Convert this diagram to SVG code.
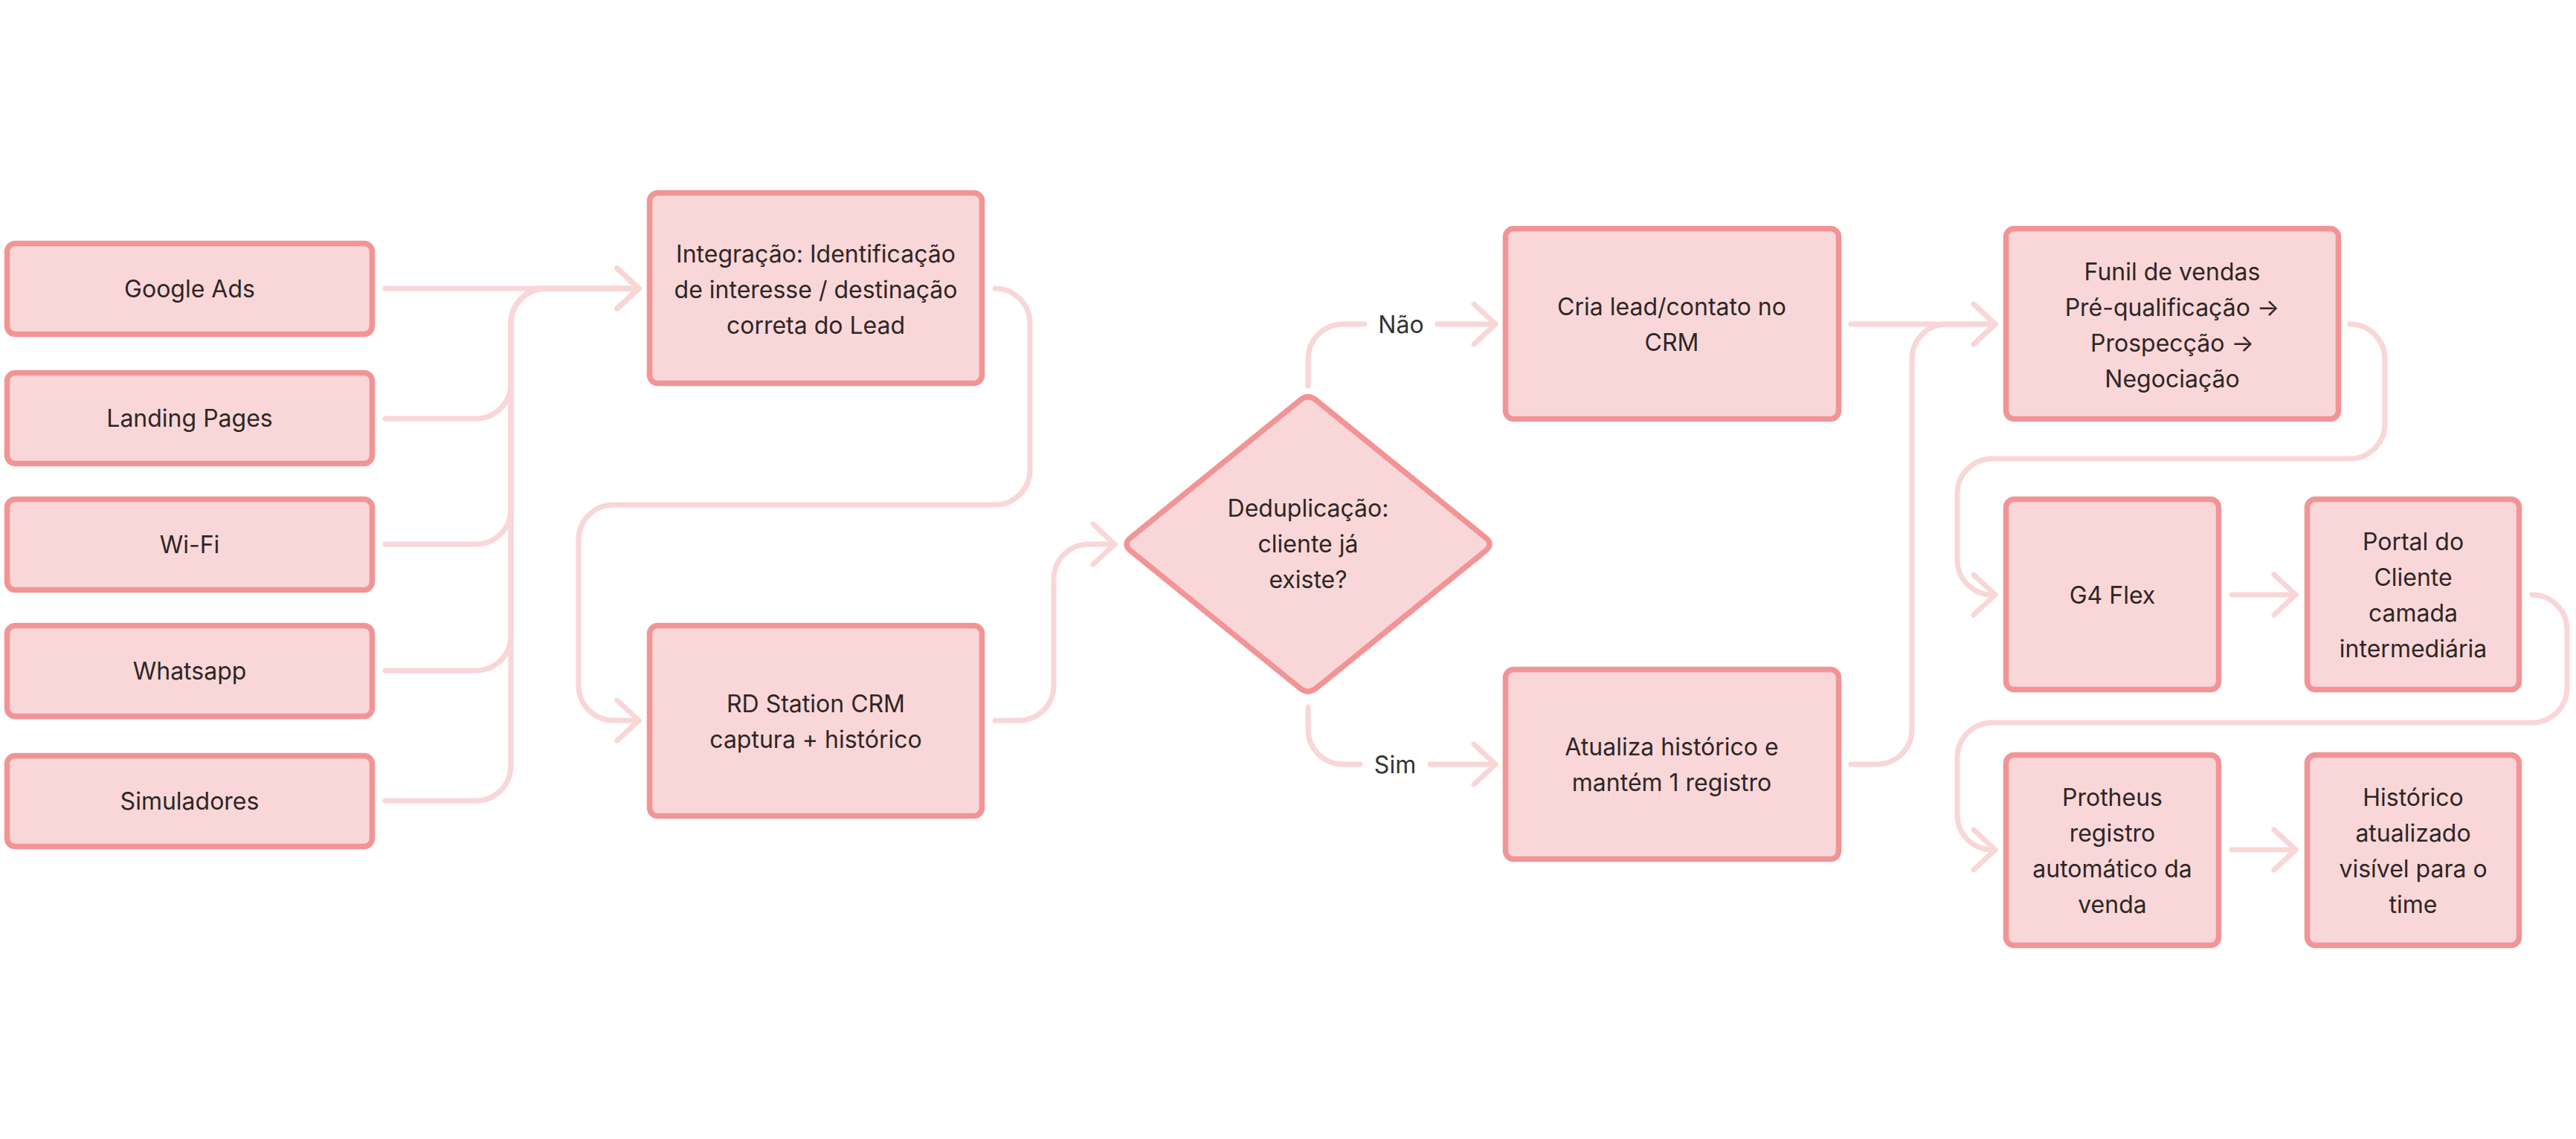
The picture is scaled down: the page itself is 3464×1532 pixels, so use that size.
<svg xmlns="http://www.w3.org/2000/svg" width="3464" height="1532" viewBox="0 0 3464 1532">
<style>
.node{fill:#F9D7D8;stroke:#F29495;stroke-width:7.5;stroke-linejoin:round}
.t{font-family:Inter,"Noto Sans","Liberation Sans",sans-serif;font-size:32px;fill:#2E2626;text-anchor:middle}
.lbl{font-family:Inter,"Noto Sans","Liberation Sans",sans-serif;font-size:32px;fill:#333333;text-anchor:middle}
.c{fill:none;stroke:#F9D6D7;stroke-width:7;stroke-linecap:round;stroke-linejoin:round}
</style>
<defs>
<marker id="arr" markerUnits="userSpaceOnUse" viewBox="-40 -35 50 70" markerWidth="50" markerHeight="70" refX="0" refY="0" orient="auto">
<path d="M-29,-27 L0,0 L-29,27" fill="none" stroke="#F9D6D7" stroke-width="7" stroke-linecap="round" stroke-linejoin="round"/>
</marker>
</defs>
<rect width="3464" height="1532" fill="#FFFFFF"/>
<g id="connectors">
<path class="c" d="M518,388 H859" marker-end="url(#arr)"/>
<path class="c" d="M518,563 H640 A47,47 0 0 0 687,516 V435 A47,47 0 0 1 734,388 H859" marker-end="url(#arr)"/>
<path class="c" d="M518,732 H640 A47,47 0 0 0 687,685 V435 A47,47 0 0 1 734,388 H859" marker-end="url(#arr)"/>
<path class="c" d="M518,902 H640 A47,47 0 0 0 687,855 V435 A47,47 0 0 1 734,388 H859" marker-end="url(#arr)"/>
<path class="c" d="M518,1077 H640 A47,47 0 0 0 687,1030 V435 A47,47 0 0 1 734,388 H859" marker-end="url(#arr)"/>
<path class="c" d="M1338,388 A47,47 0 0 1 1385,435 V632 A47,47 0 0 1 1338,679 H825 A47,47 0 0 0 778,726 V922 A47,47 0 0 0 825,969 H859" marker-end="url(#arr)"/>
<path class="c" d="M1338,969 H1370 A47,47 0 0 0 1417,922 V779 A47,47 0 0 1 1464,732 H1499" marker-end="url(#arr)"/>
<path class="c" d="M1759,519 V483 A47,47 0 0 1 1806,436 H1835"/>
<path class="c" d="M1933,436 H2011" marker-end="url(#arr)"/>
<path class="c" d="M1759,951 V981 A47,47 0 0 0 1806,1028 H1829"/>
<path class="c" d="M1923,1028 H2011" marker-end="url(#arr)"/>
<path class="c" d="M2489,436 H2683" marker-end="url(#arr)"/>
<path class="c" d="M2489,1028 H2524 A47,47 0 0 0 2571,981 V483 A47,47 0 0 1 2618,436 H2683" marker-end="url(#arr)"/>
<path class="c" d="M3160,436 A47,47 0 0 1 3207,483 V570 A47,47 0 0 1 3160,617 H2679 A47,47 0 0 0 2632,664 V753 A47,47 0 0 0 2679,800 H2683" marker-end="url(#arr)"/>
<path class="c" d="M3001,800 H3087" marker-end="url(#arr)"/>
<path class="c" d="M3405,800 A47,47 0 0 1 3452,847 V925 A47,47 0 0 1 3405,972 H2679 A47,47 0 0 0 2632,1019 V1096 A47,47 0 0 0 2679,1143 H2683" marker-end="url(#arr)"/>
<path class="c" d="M3001,1143 H3087" marker-end="url(#arr)"/>
<text class="lbl" x="1884" y="447.5">Não</text>
<text class="lbl" x="1876" y="1039.5">Sim</text>
</g>
<g id="google-ads"><rect class="node" x="9.5" y="327.5" width="491" height="122" rx="11"/><text class="t" x="255" y="400">Google Ads</text></g>
<g id="landing-pages"><rect class="node" x="9.5" y="501.5" width="491" height="122" rx="11"/><text class="t" x="255" y="574">Landing Pages</text></g>
<g id="wifi"><rect class="node" x="9.5" y="671.5" width="491" height="122" rx="11"/><text class="t" x="255" y="744">Wi-Fi</text></g>
<g id="whatsapp"><rect class="node" x="9.5" y="841.5" width="491" height="122" rx="11"/><text class="t" x="255" y="914">Whatsapp</text></g>
<g id="simuladores"><rect class="node" x="9.5" y="1016.5" width="491" height="122" rx="11"/><text class="t" x="255" y="1089">Simuladores</text></g>
<g id="integracao"><rect class="node" x="873.5" y="259.5" width="447" height="256" rx="11"/>
<text class="t" x="1097" y="353">Integração: Identificação</text>
<text class="t" x="1097" y="401">de interesse / destinação</text>
<text class="t" x="1097" y="449">correta do Lead</text></g>
<g id="rd-station"><rect class="node" x="873.5" y="841.5" width="447" height="256" rx="11"/>
<text class="t" x="1097" y="958">RD Station CRM</text>
<text class="t" x="1097" y="1006">captura + histórico</text></g>
<g id="deduplicacao"><path class="node" d="M1748.1,538.3 Q1759,529.5 1769.9,538.3 L1997.6,723.2 Q2008.5,732 1997.6,740.8 L1769.9,925.7 Q1759,934.5 1748.1,925.7 L1520.4,740.8 Q1509.5,732 1520.4,723.2 Z"/>
<text class="t" x="1759" y="695">Deduplicação:</text>
<text class="t" x="1759" y="743">cliente já</text>
<text class="t" x="1759" y="791">existe?</text></g>
<g id="cria-lead"><rect class="node" x="2024.5" y="307.5" width="448" height="256" rx="11"/>
<text class="t" x="2248" y="424">Cria lead/contato no</text>
<text class="t" x="2248" y="472">CRM</text></g>
<g id="atualiza"><rect class="node" x="2024.5" y="900.5" width="448" height="255" rx="11"/>
<text class="t" x="2248" y="1016">Atualiza histórico e</text>
<text class="t" x="2248" y="1064">mantém 1 registro</text></g>
<g id="funil"><rect class="node" x="2697.5" y="307.5" width="447" height="256" rx="11"/>
<text class="t" x="2921" y="377">Funil de vendas</text>
<text class="t" x="2921" y="425">Pré-qualificação →</text>
<text class="t" x="2921" y="473">Prospecção →</text>
<text class="t" x="2921" y="521">Negociação</text></g>
<g id="g4-flex"><rect class="node" x="2697.5" y="671.5" width="286" height="256" rx="11"/>
<text class="t" x="2840.5" y="812">G4 Flex</text></g>
<g id="portal"><rect class="node" x="3102.5" y="671.5" width="285" height="256" rx="11"/>
<text class="t" x="3245" y="740">Portal do</text>
<text class="t" x="3245" y="788">Cliente</text>
<text class="t" x="3245" y="836">camada</text>
<text class="t" x="3245" y="884">intermediária</text></g>
<g id="protheus"><rect class="node" x="2697.5" y="1015.5" width="286" height="256" rx="11"/>
<text class="t" x="2840.5" y="1084">Protheus</text>
<text class="t" x="2840.5" y="1132">registro</text>
<text class="t" x="2840.5" y="1180">automático da</text>
<text class="t" x="2840.5" y="1228">venda</text></g>
<g id="historico"><rect class="node" x="3102.5" y="1015.5" width="285" height="256" rx="11"/>
<text class="t" x="3245" y="1084">Histórico</text>
<text class="t" x="3245" y="1132">atualizado</text>
<text class="t" x="3245" y="1180">visível para o</text>
<text class="t" x="3245" y="1228">time</text></g>
</svg>
